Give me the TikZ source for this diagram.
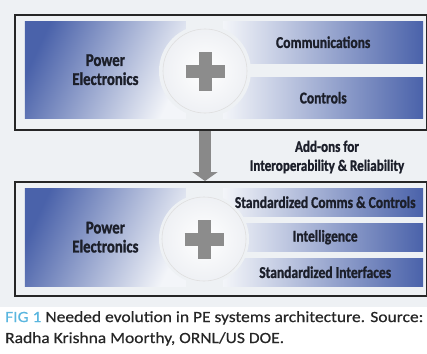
\documentclass[tikz,border=0pt]{standalone}
\usepackage{fontspec}
\setmainfont{Carlito}[FakeStretch=1.12, FakeBold=0.5]
\newfontfamily\boxFont{Carlito}[FakeStretch=0.82, BoldFeatures={FakeBold=1.2}]
\usetikzlibrary{arrows.meta,positioning}

\definecolor{pageBg}{HTML}{EEF1F4}
\definecolor{panelDark}{HTML}{4A62AA}
\definecolor{panelLight}{HTML}{F3F5F9}
\definecolor{plusGray}{HTML}{8C8C8C}
\definecolor{figBlue}{HTML}{5AB6DF}
\definecolor{inkDark}{HTML}{1C1F2A}

\begin{document}
\begin{tikzpicture}[x=1pt, y=-1pt,
   frame/.style={draw=black!85, line width=1.6pt, fill=pageBg,
                 inner sep=0pt, anchor=north west, minimum width=412pt},
   leftPanel/.style={inner sep=0pt, anchor=north west,
                 minimum width=161pt, minimum height=97pt,
                 left color=panelDark, right color=panelLight,
                 shading angle=65, text=inkDark, align=center,
                 font=\boxFont\bfseries\fontsize{18}{19}\selectfont},
   rightPanel/.style={inner sep=0pt, anchor=north west,
                 minimum width=200pt, left color=panelLight,
                 right color=panelDark, text=inkDark,
                 font=\boxFont\bfseries\fontsize{16.5}{19}\selectfont},
   hub/.style={circle, minimum size=84pt, inner sep=0pt,
               inner color=white, outer color=panelLight!96!gray,
               draw=gray!25, line width=0.6pt},
   plusBar/.style={plusGray, line width=13pt}]
  \useasboundingbox (0,0) rectangle (427,353);
  \fill[pageBg] (0,0) rectangle (427,307);

  % Half length of each arm of the plus signs
  \pgfmathsetmacro{\armLength}{19.5}

  % Today's architecture
  \node[frame, minimum height=115pt] (oldFrame) at (14,14) {};
  \node[leftPanel] (oldPE) at (24.7,21) {Power\\Electronics};
  \node[rightPanel, minimum height=42pt] (comms) at (223,21)
    {Communications};
  \node[rightPanel, minimum height=41pt] (controls) at (223,77)
    {Controls};

  % The hub is cut out of the panels by a ring of background colour
  \coordinate (oldHubCentre) at (205,71);
  \fill[pageBg] (oldHubCentre) circle[radius=46pt];
  \node[hub] (oldHub) at (oldHubCentre) {};
  \draw[plusBar] ([xshift=-\armLength pt]oldHub.center)
    -- ([xshift=\armLength pt]oldHub.center);
  \draw[plusBar] ([yshift=-\armLength pt]oldHub.center)
    -- ([yshift=\armLength pt]oldHub.center);

  % Needed architecture
  \node[frame, minimum height=114pt] (newFrame) at (14,181) {};
  \node[leftPanel, minimum height=98pt] (newPE) at (24.7,188)
    {Power\\Electronics};

  % The three add-on panels, one below the other
  \foreach \name/\top/\label in {stdComms/188/Standardized Comms \& Controls,
                                 intelligence/223/Intelligence,
                                 stdInterfaces/258/Standardized Interfaces}
  {
    \node[rightPanel, minimum height=28pt] (\name) at (223,\top)
      {\hspace*{4pt}\label};
  }

  \coordinate (newHubCentre) at (204,239);
  \fill[pageBg] (newHubCentre) circle[radius=45pt];
  \node[hub] (newHub) at (newHubCentre) {};
  \draw[plusBar] ([xshift=-\armLength pt]newHub.center)
    -- ([xshift=\armLength pt]newHub.center);
  \draw[plusBar] ([yshift=-\armLength pt]newHub.center)
    -- ([yshift=\armLength pt]newHub.center);

  % Step from one architecture to the other
  \draw[plusGray!98!black, line width=12pt, shorten <=0.8pt,
        -{Triangle[width=25pt,length=9pt]}]
    (oldFrame.south -| oldHub) -- (newFrame.north -| oldHub);
  \node[text=inkDark, align=center,
        font=\boxFont\bfseries\fontsize{16}{19}\selectfont]
    (addOns) at (327,157) {Add-ons for\\Interoperability \& Reliability};

  % Caption
  \node[anchor=north west, inner sep=0pt, align=left, text=black!85,
        font=\fontsize{15.6}{21}\selectfont] (caption) at (5,311)
    {\textcolor{figBlue}{FIG 1} Needed evolution in PE systems architecture. Source:\\
     Radha Krishna Moorthy, ORNL/US DOE.};
\end{tikzpicture}
\end{document}
